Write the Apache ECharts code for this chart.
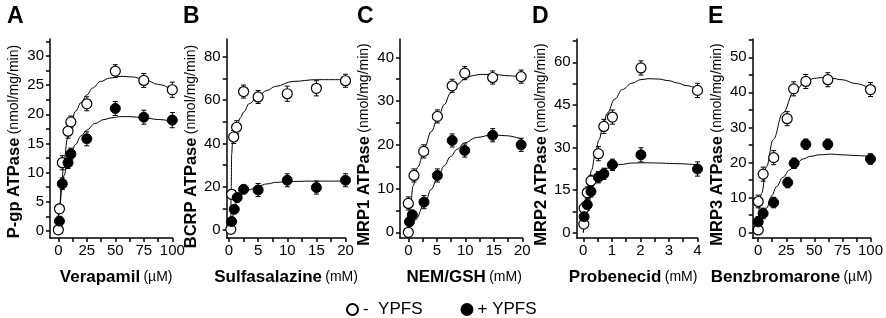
<!DOCTYPE html>
<html>
<head>
<meta charset="utf-8">
<script src="https://cdn.jsdelivr.net/npm/echarts@6.0.0/dist/echarts.min.js"></script>
<style>
  html, body { margin: 0; padding: 0; background: #fff; }
  #chart { width: 886px; height: 318px; }
</style>
</head>
<body>
<div id="chart"></div>
<script>
// ---- A: P-gp / Verapamil (uM)
var aOpenX = [0, 1, 3.5, 8.5, 11, 25, 50, 75, 100];
var aOpenY = [0.2, 3.8, 11.7, 17.1, 18.7, 21.8, 27.4, 25.8, 24.2];
var aOpenErr = [0.5, 0.8, 1.2, 1.2, 1.0, 1.2, 1.1, 1.2, 1.3];
var aFillX = [1, 3.5, 8.5, 11, 25, 50, 75, 100];
var aFillY = [1.7, 8.1, 11.7, 13.2, 15.8, 21.0, 19.5, 19.0];
var aFillErr = [0.8, 1.0, 1.0, 1.0, 1.2, 1.2, 1.2, 1.3];
var aOpenFitX = [-1, 1, 3, 5, 8, 11, 15, 20, 25, 30, 37, 45, 55, 65, 75, 88, 100];
var aOpenFitY = [0, 4, 8.5, 12, 15.8, 18.3, 20.5, 22, 23.3, 24.5, 25.6, 26.2, 26.5, 26.4, 26.0, 25.1, 24.2];
var aFillFitX = [-1, 1, 3, 5, 8, 11, 15, 20, 25, 32, 40, 47, 55, 62, 75, 88, 100];
var aFillFitY = [0, 3.5, 7, 9.5, 11.8, 13.3, 14.8, 16.3, 17.3, 18.4, 19.1, 19.4, 19.6, 19.6, 19.4, 19.1, 18.8];
var aXLabels = [0, 25, 50, 75, 100];
var aXTicks = [0, 12.5, 25, 37.5, 50, 62.5, 75, 87.5, 100];
var aYLabels = [0, 5, 10, 15, 20, 25, 30];
var aYTicks = [0, 2.5, 5, 7.5, 10, 12.5, 15, 17.5, 20, 22.5, 25, 27.5, 30, 32.5];

// ---- B: BCRP / Sulfasalazine (mM)
var bOpenX = [0.3, 0.45, 0.8, 1.3, 2.5, 5, 10, 15, 20];
var bOpenY = [0.3, 16.5, 43, 47.5, 64, 61.5, 63, 65.5, 69];
var bOpenErr = [1, 2, 3, 3, 3, 3, 3.5, 3.5, 3];
var bFillX = [0.45, 0.9, 1.4, 2.5, 5, 10, 15, 20];
var bFillY = [3.9, 9.6, 15, 18.8, 18.5, 23, 19.6, 23];
var bFillErr = [1.5, 2, 2, 2, 3, 3, 3, 3];
var bOpenFitX = [0.3, 0.38, 0.45, 0.6, 0.9, 1.3, 2, 2.5, 3.5, 5, 6.5, 8, 11, 15, 20];
var bOpenFitY = [0, 20, 35, 40, 44, 48, 52, 54.5, 58.5, 62, 64.5, 66.4, 68.7, 69.5, 69.5];
var bFillFitX = [0.3, 0.5, 0.9, 1.4, 2.5, 3.7, 5, 6.5, 8, 10, 14, 20];
var bFillFitY = [0, 4, 10, 13.5, 16.8, 18.8, 20.3, 21.3, 22, 22.4, 22.6, 22.6];
var bXLabels = [0, 5, 10, 15, 20];
var bXTicks = [0, 2.5, 5, 7.5, 10, 12.5, 15, 17.5, 20];
var bYLabels = [0, 20, 40, 60, 80];
var bYTicks = [0, 10, 20, 30, 40, 50, 60, 70, 80];

// ---- C: MRP1 / NEM-GSH (mM)
var cOpenX = [0, 0, 1, 2.7, 5.1, 7.7, 9.9, 14.8, 19.8];
var cOpenY = [0, 6.6, 13, 18.5, 26.5, 33.5, 36.4, 35.4, 35.6];
var cOpenErr = [0.5, 1.5, 1.5, 1.5, 1.5, 1.5, 1.5, 1.5, 1.5];
var cFillX = [0.2, 0.7, 2.75, 5.1, 7.7, 9.9, 14.8, 19.8];
var cFillY = [2.4, 4, 6.9, 13, 21, 18.7, 22.2, 20];
var cFillErr = [1, 1, 1.5, 1.5, 1.5, 1.5, 1.5, 1.5];
var cOpenFitX = [0, 0.4, 0.8, 1.7, 2.9, 4, 5.2, 6.3, 7.4, 8.6, 9.8, 11.2, 12.6, 15, 17.5, 20];
var cOpenFitY = [0, 6, 10.5, 15, 19.6, 23, 26.1, 29.2, 31.8, 33.8, 35, 35.8, 36.1, 36.1, 35.8, 35.5];
var cFillFitX = [0, 1.2, 2.9, 4, 5.2, 6.3, 7.4, 8.6, 9.8, 12, 14.8, 17, 20];
var cFillFitY = [1.5, 2.8, 6.6, 9.8, 12.7, 15.2, 17.3, 19, 20.4, 21.7, 22.3, 22.1, 21.3];
var cXLabels = [0, 5, 10, 15, 20];
var cXTicks = [0, 2.5, 5, 7.5, 10, 12.5, 15, 17.5, 20];
var cYLabels = [0, 10, 20, 30, 40];
var cYTicks = [0, 5, 10, 15, 20, 25, 30, 35, 40];

// ---- D: MRP2 / Probenecid (mM)
var dOpenX = [0.02, 0.03, 0.14, 0.27, 0.53, 0.72, 1.02, 2.02, 4];
var dOpenY = [3, 8.6, 14.1, 18.2, 27.8, 37.4, 40.7, 58, 50.1];
var dOpenErr = [1, 2, 2, 2, 2.5, 2.5, 2.5, 2.5, 2.5];
var dFillX = [0.03, 0.14, 0.27, 0.53, 0.72, 1.02, 2.02, 4];
var dFillY = [5.6, 9.8, 14.5, 19.5, 20.7, 23.9, 27.4, 22.4];
var dFillErr = [2, 2, 2, 2, 2, 2, 2.5, 2.5];
var dOpenFitX = [0, 0.1, 0.2, 0.29, 0.42, 0.55, 0.7, 0.84, 1.1, 1.37, 1.7, 2.02, 2.3, 2.63, 3, 3.3, 3.6, 4];
var dOpenFitY = [0, 11.5, 17.5, 22, 27.5, 32.7, 38, 42.1, 47, 50.4, 52.6, 53.9, 54.2, 54.1, 53.5, 52.7, 51.8, 50.6];
var dFillFitX = [0, 0.03, 0.17, 0.34, 0.5, 0.64, 0.8, 1.02, 1.3, 1.7, 2.2, 2.63, 3.2, 4];
var dFillFitY = [0, 2, 9.2, 16.8, 19.8, 21.5, 22.6, 23.3, 24, 24.5, 24.6, 24.5, 24.3, 23.9];
var dXLabels = [0, 1, 2, 3, 4];
var dXTicks = [0, 0.5, 1, 1.5, 2, 2.5, 3, 3.5, 4];
var dYLabels = [0, 15, 30, 45, 60];
var dYTicks = [0, 7.5, 15, 22.5, 30, 37.5, 45, 52.5, 60, 67.5];

// ---- E: MRP3 / Benzbromarone (uM)
var eOpenX = [0, 0, 4.4, 13.8, 25.8, 31.6, 42.4, 62, 100];
var eOpenY = [0.8, 8.9, 16.7, 21.4, 32.5, 41, 43.1, 43.6, 40.8];
var eOpenErr = [0.8, 1.8, 2, 2, 2, 2, 2, 2, 2];
var eFillX = [0, 4.4, 13.8, 26.3, 32, 42.4, 62, 100];
var eFillY = [3.1, 5.5, 8.6, 14.3, 19.8, 25.2, 25.2, 21];
var eFillErr = [1.5, 1.5, 1.5, 1.5, 1.5, 1.5, 1.5, 1.5];
var eOpenFitX = [-0.9, 3, 7.4, 13.3, 22, 32, 42.4, 50, 57, 65, 74.6, 87, 100];
var eOpenFitY = [0, 11.2, 18.9, 26.5, 34.1, 40.3, 43.1, 44, 44.2, 44, 43.6, 42.5, 41];
var eFillFitX = [0.9, 4, 7.4, 12, 16.2, 22, 27.9, 34, 39.6, 47, 54.2, 65, 74.6, 87, 100];
var eFillFitY = [0.8, 4, 7, 10.5, 13.1, 15.8, 17.9, 19.6, 21, 21.8, 22.2, 22.4, 22.2, 22, 21.7];
var eXLabels = [0, 25, 50, 75, 100];
var eXTicks = [0, 12.5, 25, 37.5, 50, 62.5, 75, 87.5, 100];
var eYLabels = [0, 10, 20, 30, 40, 50];
var eYTicks = [0, 5, 10, 15, 20, 25, 30, 35, 40, 45, 50, 55];

var seriesNames = ['-  YPFS', '+ YPFS'];

var FONT = '"Liberation Sans", Arial, sans-serif';

function zip(xs, ys, es) {
  return xs.map(function (x, i) { return es ? [x, ys[i], es[i]] : [x, ys[i]]; });
}

// layout per panel; xShift / yShift nudge the axis names like in the figure
var panels = [
  { letter: 'A', yName: 'P-gp ATPase', xName: 'Verapamil', unit: '(µM)', left: 50, width: 122.3,
    xMin: -7.3, xMax: 100, yMin: -1.2, yMax: 32.9,
    open: zip(aOpenX, aOpenY, aOpenErr), fill: zip(aFillX, aFillY, aFillErr),
    openFit: zip(aOpenFitX, aOpenFitY), fillFit: zip(aFillFitX, aFillFitY),
    xLabels: aXLabels, xTicks: aXTicks, yLabels: aYLabels, yTicks: aYTicks, xShift: 5, yShift: 3 },
  { letter: 'B', yName: 'BCRP ATPase', xName: 'Sulfasalazine', unit: '(mM)', left: 226.7, width: 118.8,
    xMin: -0.4, xMax: 20, yMin: -3.7, yMax: 88.3,
    open: zip(bOpenX, bOpenY, bOpenErr), fill: zip(bFillX, bFillY, bFillErr),
    openFit: zip(bOpenFitX, bOpenFitY), fillFit: zip(bFillFitX, bFillFitY),
    xLabels: bXLabels, xTicks: bXTicks, yLabels: bYLabels, yTicks: bYTicks, xShift: 0, yShift: 8 },
  { letter: 'C', yName: 'MRP1 ATPase', xName: 'NEM/GSH', unit: '(mM)', left: 400, width: 122.3,
    xMin: -1.46, xMax: 20, yMin: -1.3, yMax: 44.2,
    open: zip(cOpenX, cOpenY, cOpenErr), fill: zip(cFillX, cFillY, cFillErr),
    openFit: zip(cOpenFitX, cOpenFitY), fillFit: zip(cFillFitX, cFillFitY),
    xLabels: cXLabels, xTicks: cXTicks, yLabels: cYLabels, yTicks: cYTicks, xShift: 3, yShift: 6 },
  { letter: 'D', yName: 'MRP2 ATPase', xName: 'Probenecid', unit: '(mM)', left: 576.7, width: 120.8,
    xMin: -0.23, xMax: 4, yMin: -1.9, yMax: 68.2,
    open: zip(dOpenX, dOpenY, dOpenErr), fill: zip(dFillX, dFillY, dFillErr),
    openFit: zip(dOpenFitX, dOpenFitY), fillFit: zip(dFillFitX, dFillFitY),
    xLabels: dXLabels, xTicks: dXTicks, yLabels: dYLabels, yTicks: dYTicks, xShift: -4, yShift: 6 },
  { letter: 'E', yName: 'MRP3 ATPase', xName: 'Benzbromarone', unit: '(µM)', left: 752.7, width: 119.8,
    xMin: -4.9, xMax: 100, yMin: -1.5, yMax: 55.2,
    open: zip(eOpenX, eOpenY, eOpenErr), fill: zip(eFillX, eFillY, eFillErr),
    openFit: zip(eOpenFitX, eOpenFitY), fillFit: zip(eFillFitX, eFillFitY),
    xLabels: eXLabels, xTicks: eXTicks, yLabels: eYLabels, yTicks: eYTicks, xShift: -20, yShift: 6 }
];

var letterX = [2, 178, 352, 527, 703];

function errBar(params, api) {
  var x = api.value(0), y = api.value(1), e = api.value(2);
  var hi = api.coord([x, y + e]);
  var lo = api.coord([x, y - e]);
  var w = 2.5;
  var st = { stroke: '#000', lineWidth: 1 };
  return {
    type: 'group',
    children: [
      { type: 'line', shape: { x1: hi[0], y1: hi[1], x2: lo[0], y2: lo[1] }, style: st },
      { type: 'line', shape: { x1: hi[0] - w, y1: hi[1], x2: hi[0] + w, y2: hi[1] }, style: st },
      { type: 'line', shape: { x1: lo[0] - w, y1: lo[1], x2: lo[0] + w, y2: lo[1] }, style: st }
    ]
  };
}

function shiftPad(d) {
  // centred text: padding on one side moves the glyphs by half of it
  return d > 0 ? [0, 0, 0, 2 * d] : [0, -2 * d, 0, 0];
}

var axisLine = { show: true, onZero: false, lineStyle: { color: '#000', width: 1.5 } };
var axisTick = { show: true, length: 4, lineStyle: { color: '#000', width: 1.5 } };

var option = {
  backgroundColor: '#fff',
  animation: false,
  title: panels.map(function (p, i) {
    return { text: p.letter, left: letterX[i], top: 0,
      textStyle: { fontFamily: FONT, fontSize: 23, fontWeight: 'bold', color: '#000' } };
  }),
  legend: {
    data: seriesNames,
    left: 341, top: 296, itemWidth: 11, itemHeight: 11, itemGap: 38,
    textStyle: { fontFamily: FONT, fontSize: 17, color: '#000' }
  },
  grid: panels.map(function (p) {
    return { left: p.left, top: 39, width: p.width, height: 199 };
  }),
  xAxis: panels.map(function (p, i) {
    return {
      type: 'value', gridIndex: i, min: p.xMin, max: p.xMax,
      axisLine: axisLine,
      axisTick: Object.assign({ customValues: p.xTicks }, axisTick),
      axisLabel: { customValues: p.xLabels, margin: 5, fontFamily: FONT, fontSize: 15, color: '#000' },
      splitLine: { show: false },
      name: '{b|' + p.xName + '} {n|' + p.unit + '}',
      nameLocation: 'middle', nameGap: 31,
      nameTextStyle: {
        padding: shiftPad(p.xShift),
        rich: {
          b: { fontFamily: FONT, fontSize: 17, fontWeight: 'bold', color: '#000' },
          n: { fontFamily: FONT, fontSize: 14, color: '#000' }
        }
      }
    };
  }),
  yAxis: panels.map(function (p, i) {
    return {
      type: 'value', gridIndex: i, min: p.yMin, max: p.yMax,
      axisLine: axisLine,
      axisTick: Object.assign({ customValues: p.yTicks }, axisTick),
      axisLabel: { customValues: p.yLabels, margin: 6, fontFamily: FONT, fontSize: 15, color: '#000' },
      splitLine: { show: false },
      name: '{b|' + p.yName + '} {n|(nmol/mg/min)}',
      nameLocation: 'middle', nameGap: 27,
      nameTextStyle: {
        padding: shiftPad(-p.yShift),
        rich: {
          b: { fontFamily: FONT, fontSize: 16.5, fontWeight: 'bold', color: '#000' },
          n: { fontFamily: FONT, fontSize: 14, color: '#000' }
        }
      }
    };
  }),
  series: []
};

panels.forEach(function (p, i) {
  [p.openFit, p.fillFit].forEach(function (fit) {
    option.series.push({
      type: 'line', xAxisIndex: i, yAxisIndex: i, data: fit,
      smooth: 0.4, smoothMonotone: 'x', showSymbol: false, symbol: 'none',
      lineStyle: { color: '#000', width: 1 }, z: 1, silent: true
    });
  });
  [p.open, p.fill].forEach(function (pts) {
    option.series.push({
      type: 'custom', xAxisIndex: i, yAxisIndex: i, data: pts,
      renderItem: errBar, z: 2, silent: true
    });
  });
  option.series.push({
    name: seriesNames[0], type: 'scatter', xAxisIndex: i, yAxisIndex: i,
    data: p.open, symbolSize: 10, z: 3,
    itemStyle: { color: '#fff', borderColor: '#000', borderWidth: 1.2, opacity: 1 }
  });
  option.series.push({
    name: seriesNames[1], type: 'scatter', xAxisIndex: i, yAxisIndex: i,
    data: p.fill, symbolSize: 10, z: 4,
    itemStyle: { color: '#000', borderColor: '#000', borderWidth: 1, opacity: 1 }
  });
});

var chart = echarts.init(document.getElementById('chart'));
chart.setOption(option);
</script>
</body>
</html>
